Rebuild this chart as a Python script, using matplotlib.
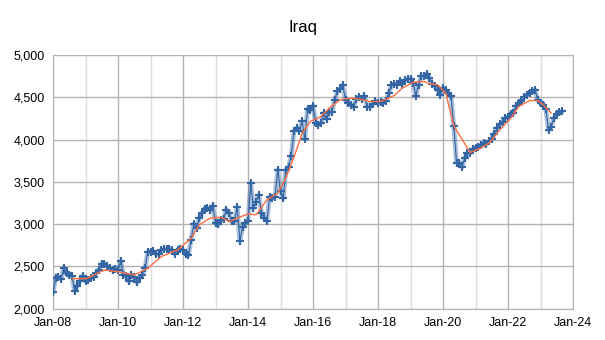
import matplotlib
matplotlib.use("Agg")
import matplotlib.pyplot as plt
import matplotlib.dates as mdates
from matplotlib.ticker import FuncFormatter, MultipleLocator
import pandas as pd

plt.rcParams["font.family"] = ["Liberation Sans", "DejaVu Sans"]

# Iraq crude output, kb/d, monthly from Jan-08
prod_2008 = [2190, 2360, 2370, 2350, 2480, 2420, 2400, 2380, 2210, 2270, 2330, 2380]
prod_2009 = [2320, 2340, 2360, 2370, 2420, 2460, 2530, 2530, 2500, 2480, 2450, 2470]
prod_2010 = [2460, 2560, 2400, 2380, 2320, 2400, 2370, 2310, 2360, 2400, 2480, 2670]
prod_2011 = [2670, 2680, 2650, 2640, 2690, 2700, 2700, 2710, 2690, 2650, 2690, 2700]
prod_2012 = [2690, 2650, 2630, 2810, 3000, 2950, 3070, 3130, 3175, 3190, 3170, 3215]
prod_2013 = [3010, 3000, 3050, 3060, 3170, 3130, 3030, 3030, 3200, 2800, 2970, 3010]
prod_2014 = [3040, 3480, 3190, 3265, 3345, 3130, 3070, 3040, 3325, 3306, 3325, 3640]
prod_2015 = [3385, 3306, 3640, 3680, 3800, 4100, 4135, 4105, 4215, 4005, 4360, 4350]
prod_2016 = [4400, 4200, 4175, 4195, 4313, 4240, 4330, 4330, 4470, 4570, 4600, 4640]
prod_2017 = [4470, 4430, 4410, 4390, 4480, 4500, 4480, 4510, 4390, 4390, 4420, 4450]
prod_2018 = [4430, 4440, 4430, 4460, 4550, 4640, 4660, 4650, 4690, 4660, 4700, 4715]
prod_2019 = [4715, 4668, 4518, 4648, 4755, 4747, 4778, 4728, 4660, 4628, 4581, 4530]
prod_2020 = [4609, 4581, 4550, 4510, 4162, 3727, 3727, 3673, 3780, 3839, 3839, 3886]
prod_2021 = [3900, 3910, 3940, 3960, 3950, 3980, 4010, 4070, 4135, 4180, 4213, 4253]
prod_2022 = [4270, 4305, 4313, 4400, 4431, 4450, 4502, 4530, 4550, 4570, 4589, 4462]
prod_2023 = [4431, 4410, 4360, 4115, 4154, 4253, 4305, 4320, 4332]

production = (prod_2008 + prod_2009 + prod_2010 + prod_2011 + prod_2012 + prod_2013
              + prod_2014 + prod_2015 + prod_2016 + prod_2017 + prod_2018 + prod_2019
              + prod_2020 + prod_2021 + prod_2022 + prod_2023)
months = pd.date_range("2008-01-01", periods=len(production), freq="MS")

# smoothed trend (orange)
trend_dates = ["2008-08", "2009-01", "2009-08", "2010-01", "2010-07", "2010-12",
               "2011-05", "2011-11", "2012-04", "2012-07", "2012-11", "2013-03",
               "2013-06", "2013-09", "2014-01", "2014-04", "2014-08", "2014-12",
               "2015-03", "2015-06", "2015-09", "2015-12", "2016-04", "2016-07",
               "2016-11", "2017-03", "2017-06", "2017-10", "2018-02", "2018-07",
               "2018-10", "2019-02", "2019-06", "2019-08", "2019-11", "2020-02",
               "2020-05", "2020-11", "2021-03", "2021-06", "2021-10", "2022-02",
               "2022-05", "2022-09", "2022-12", "2023-02", "2023-05"]
trend_values = [2355, 2350, 2456, 2436, 2397, 2476,
                2614, 2693, 2830, 2989, 3069, 3081,
                3028, 3069, 3120, 3108, 3286, 3365,
                3543, 3790, 4076, 4213, 4272, 4372,
                4470, 4490, 4479, 4450, 4450, 4520,
                4609, 4676, 4688, 4660, 4648, 4550,
                4162, 3846, 3898, 3957, 4115, 4253,
                4391, 4462, 4462, 4411, 4313]
trend_dates = pd.to_datetime(trend_dates)

fig = plt.figure(figsize=(6.05, 3.4), dpi=100)
ax = fig.add_axes([0.0876, 0.0926, 0.8595, 0.7456])

blue = "#3465a4"
ax.plot(months, production, color=blue, lw=3.5, alpha=0.4, solid_capstyle="round", zorder=3)
ax.plot(months, production, color=blue, lw=0.8, marker="+", ms=6, mew=1.5, zorder=4)
ax.plot(trend_dates, trend_values, color="#ff6e40", lw=1.0, zorder=5)

fig.text(0.5, 0.92, "Iraq", fontsize=12, ha="center", va="center")

ax.set_xlim(pd.Timestamp("2008-01-01"), pd.Timestamp("2024-01-01"))
ax.set_ylim(2000, 5000)
ax.xaxis.set_major_locator(mdates.YearLocator(2))
ax.xaxis.set_minor_locator(mdates.YearLocator(1))
ax.xaxis.set_major_formatter(mdates.DateFormatter("%b-%y"))
ax.yaxis.set_major_locator(MultipleLocator(500))
ax.yaxis.set_major_formatter(FuncFormatter(lambda v, p: f"{v:,.0f}"))

ax.grid(which="major", color="#b3b3b3", lw=1)
ax.grid(which="minor", axis="x", color="#dddddd", lw=1)
ax.set_axisbelow(True)
for s in ax.spines.values():
    s.set_color("#b3b3b3")
ax.tick_params(which="both", length=0, labelsize=9, pad=6)

fig.savefig("out.png", dpi=100)
